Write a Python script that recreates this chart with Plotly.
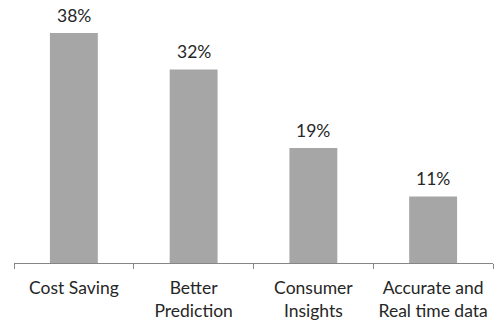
import plotly.graph_objects as go

categories = ["Cost Saving", "Better<br>Prediction", "Consumer<br>Insights", "Accurate and<br>Real time data"]
values = [38, 32, 19, 11]
value_labels = ["38%", "32%", "19%", "11%"]

bar_color = "#A6A6A6"
text_color = "#262626"
axis_color = "#868686"
font_family = "Lato, Open Sans, sans-serif"

fig = go.Figure(
    go.Bar(
        x=categories,
        y=values,
        marker=dict(color=bar_color, line=dict(width=0)),
        hoverinfo="skip",
    )
)

for cat, val, lab in zip(categories, values, value_labels):
    fig.add_annotation(
        x=cat, y=val, text=lab, showarrow=False,
        yanchor="bottom", yshift=5,
        font=dict(size=17.5, color=text_color, family=font_family),
    )

fig.update_layout(
    width=499, height=322,
    margin=dict(l=14, r=6, t=21, b=59),
    paper_bgcolor="white", plot_bgcolor="white",
    bargap=0.6,
    showlegend=False,
    font=dict(family=font_family, size=17.5, color=text_color),
)
fig.update_xaxes(
    showline=True, linecolor=axis_color, linewidth=1,
    ticks="outside", tickson="boundaries", ticklen=5, tickcolor=axis_color,
    tickfont=dict(size=17.5, color=text_color),
    ticklabelstandoff=9,
    automargin=False,
    showgrid=False,
)
fig.update_yaxes(range=[0, 40], visible=False, showgrid=False)

fig.write_html("out.html")
